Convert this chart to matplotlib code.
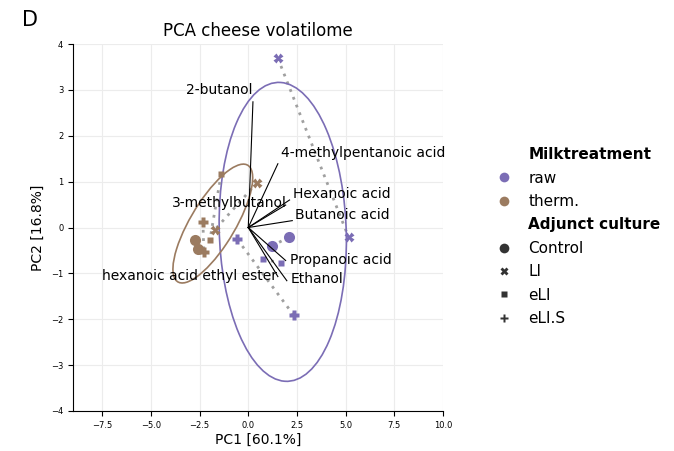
import numpy as np
import matplotlib
matplotlib.use("Agg")
import matplotlib.pyplot as plt
import matplotlib.transforms as transforms
from matplotlib.patches import Ellipse
from matplotlib.lines import Line2D

# PCA scores, two replicates per group
treatments = ["raw", "therm."]
cultures = ["Control", "LI", "eLI", "eLI.S"]
raw_pc1 = {"Control": [2.09, 1.23], "LI": [1.52, 5.15], "eLI": [0.75, 1.66], "eLI.S": [-0.56, 2.33]}
raw_pc2 = {"Control": [-0.21, -0.40], "LI": [3.69, -0.21], "eLI": [-0.69, -0.77], "eLI.S": [-0.26, -1.91]}
therm_pc1 = {"Control": [-2.74, -2.60], "LI": [0.46, -1.72], "eLI": [-1.39, -1.97], "eLI.S": [-2.33, -2.28]}
therm_pc2 = {"Control": [-0.27, -0.46], "LI": [0.98, -0.05], "eLI": [1.17, -0.27], "eLI.S": [0.13, -0.54]}

# loadings (scaled)
compounds = ["2-butanol", "4-methylpentanoic acid", "Hexanoic acid", "3-methylbutanol",
             "Butanoic acid", "Propanoic acid", "Ethanol", "hexanoic acid ethyl ester"]
load_pc1 = [0.24, 1.52, 2.12, 1.92, 2.26, 1.92, 1.98, 1.52]
load_pc2 = [2.74, 1.39, 0.60, 0.49, 0.15, -0.72, -1.16, -1.07]

# label placement (offset from loading tip, data units) and alignment
label_dx = [0.0, 0.17, 0.17, 0.04, 0.12, 0.2, 0.18, -0.05]
label_dy = [0.26, 0.23, 0.12, 0.05, 0.12, 0.01, 0.03, 0.01]
label_ha = ["right", "left", "left", "right", "left", "left", "left", "right"]

colors = {"raw": "#7b6db5", "therm.": "#9b7b60"}
markers = {"Control": "o", "LI": "X", "eLI": "s", "eLI.S": "P"}
msizes = {"Control": 8, "LI": 7, "eLI": 5, "eLI.S": 7}

scores = {"raw": (raw_pc1, raw_pc2), "therm.": (therm_pc1, therm_pc2)}


def conf_ellipse(x, y, ax, n_std=2.0, **kw):
    cov = np.cov(x, y)
    pearson = cov[0, 1] / np.sqrt(cov[0, 0] * cov[1, 1])
    rx = np.sqrt(1 + pearson)
    ry = np.sqrt(1 - pearson)
    ell = Ellipse((0, 0), width=rx * 2, height=ry * 2, facecolor="none", **kw)
    sx = np.sqrt(cov[0, 0]) * n_std
    sy = np.sqrt(cov[1, 1]) * n_std
    tr = transforms.Affine2D().rotate_deg(45).scale(sx, sy).translate(np.mean(x), np.mean(y))
    ell.set_transform(tr + ax.transData)
    ax.add_patch(ell)


fig = plt.figure(figsize=(6.74, 4.51), dpi=100)
ax = fig.add_axes([0.1083, 0.0887, 0.549, 0.8137])

ax.set_xlim(-9, 10)
ax.set_ylim(-4, 4)
ax.set_xticks([-7.5, -5.0, -2.5, 0.0, 2.5, 5.0, 7.5, 10.0])
ax.set_yticks(range(-4, 5))
ax.grid(True, color="#ececec", linewidth=0.8)
ax.set_axisbelow(True)
for s in ["top", "right"]:
    ax.spines[s].set_visible(False)
ax.tick_params(labelsize=6, length=3.5)

for t in treatments:
    px, py = scores[t]
    allx = []
    ally = []
    for c in cultures:
        ax.plot(px[c], py[c], ls=(0, (1, 2)), color="#a0a0a0", lw=2, zorder=2)
        ax.plot(px[c], py[c], ls="none", marker=markers[c], ms=msizes[c],
                color=colors[t], mec="none", zorder=3)
        allx += px[c]
        ally += py[c]
    conf_ellipse(np.array(allx), np.array(ally), ax, n_std=2.0,
                 edgecolor=colors[t], linewidth=1.2, zorder=2)

for i, name in enumerate(compounds):
    ax.plot([0, load_pc1[i]], [0, load_pc2[i]], color="black", lw=0.8, zorder=4)
    ax.text(load_pc1[i] + label_dx[i], load_pc2[i] + label_dy[i], name,
            ha=label_ha[i], va="center", fontsize=10, zorder=5)

ax.set_xlabel("PC1 [60.1%]", fontsize=10, labelpad=2)
ax.set_ylabel("PC2 [16.8%]", fontsize=10)
ax.set_title("PCA cheese volatilome", fontsize=12)
fig.text(0.033, 0.955, "D", fontsize=15, ha="left", va="center")

# legend
blank = Line2D([], [], ls="none", marker=None)
handles = [blank]
labels = ["Milktreatment"]
for t in treatments:
    handles.append(Line2D([], [], ls="none", marker="o", ms=7, color=colors[t], mec="none"))
    labels.append(t)
handles.append(blank)
labels.append("Adjunct culture")
for c in cultures:
    handles.append(Line2D([], [], ls="none", marker=markers[c], ms=msizes[c] - 1,
                          color="#333333", mec="none"))
    labels.append(c)
leg = fig.legend(handles, labels, loc="upper left", bbox_to_anchor=(0.716, 0.687),
                 frameon=False, fontsize=11, handlelength=2.0, handletextpad=0.6,
                 labelspacing=0.55, borderaxespad=0)
for txt in leg.get_texts():
    if txt.get_text() in ("Milktreatment", "Adjunct culture"):
        txt.set_fontweight("bold")

fig.savefig("out.png", dpi=100)
